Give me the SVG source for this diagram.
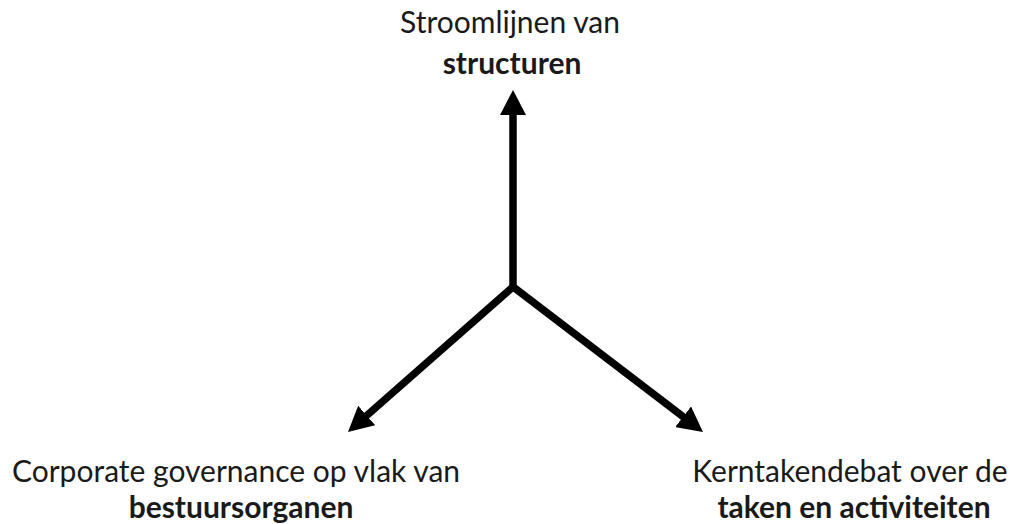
<svg xmlns="http://www.w3.org/2000/svg" width="1010" height="524" viewBox="0 0 1010 524">
<style>
text{font-family:Lato,"Open Sans","Liberation Sans",sans-serif;font-size:30px;fill:#1a1a1a;text-anchor:middle}
.b{font-weight:bold}
.c{stroke:#000;stroke-width:7.5;fill:none}
</style>
<defs>
<marker id="ah" markerUnits="userSpaceOnUse" markerWidth="26" markerHeight="26" refX="3" refY="13" orient="auto">
<path d="M0,0 L25,13 L0,26 z" fill="#000"/>
</marker>
</defs>
<rect width="1010" height="524" fill="#fff"/>
<g id="connectors">
<line class="c" x1="513" y1="290" x2="513" y2="112" marker-end="url(#ah)"/>
<line class="c" x1="514" y1="286" x2="364.5" y2="417.5" marker-end="url(#ah)"/>
<line class="c" x1="512" y1="286" x2="685.5" y2="418.6" marker-end="url(#ah)"/>
</g>
<g id="node-top">
<text x="510" y="33">Stroomlijnen van</text>
<text x="512" y="74" class="b">structuren</text>
</g>
<g id="node-left">
<text x="236" y="482">Corporate governance op vlak van</text>
<text x="241" y="518" class="b">bestuursorganen</text>
</g>
<g id="node-right">
<text x="850" y="482">Kerntakendebat over de</text>
<text x="854" y="518" class="b">taken en activiteiten</text>
</g>
</svg>
